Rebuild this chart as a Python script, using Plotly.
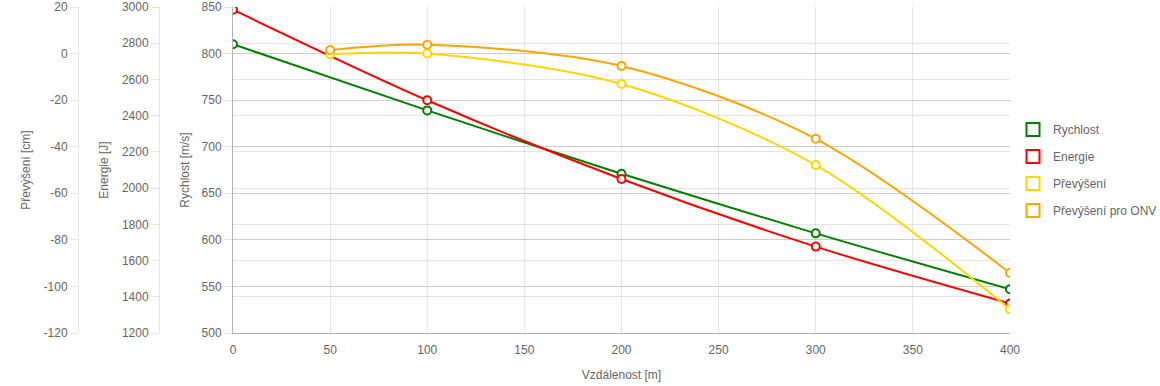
import plotly.graph_objects as go

distance = [0, 100, 200, 300, 400]
rychlost = [810, 739, 671, 607, 547]
energie = [2985, 2485, 2050, 1677, 1363]
prevyseni_x = [50, 100, 200, 300, 400]
prevyseni = [-0.3, 0.0, -13.1, -47.9, -109.8]
prevyseni_onv = [1.5, 3.8, -5.3, -36.6, -94.2]

prevyseni_ticks = [20, 0, -20, -40, -60, -80, -100, -120]
prevyseni_ticktext = ["20", "0", "-20", "-40", "-60", "-80", "-100", "-120"]

names = ["Rychlost", "Energie", "Převýšení", "Převýšení pro ONV"]
colors = ["#008000", "#ff0000", "#ffd700", "#ffa500"]

W, H = 1160, 386
ML, MR, MT, MB = 10, 10, 7, 53
IW = W - ML - MR
x0, x1 = 233, 1010

FONT = "Liberation Sans, Arial, sans-serif"
TXT = "#666666"
GRID = "rgba(0,0,0,0.1)"

fig = go.Figure()

series = [
    (distance, rychlost, "y"),
    (distance, energie, "y2"),
    (prevyseni_x, prevyseni, "y3"),
    (prevyseni_x, prevyseni_onv, "y3"),
]
for (xs, ys, ya), name, col in zip(series, names, colors):
    fig.add_trace(go.Scatter(
        x=xs, y=ys, yaxis=ya, name=name, showlegend=False,
        mode="lines+markers",
        line=dict(color=col, width=2, shape="spline", smoothing=0.9),
        marker=dict(symbol="circle", size=8, color="white",
                    line=dict(color=col, width=2)),
        hoverinfo="skip",
    ))

for i, (name, col) in enumerate(zip(names, colors)):
    fig.add_trace(go.Scatter(
        x=[None], y=[None], name=name, mode="markers",
        legendgroup=f"g{i}",
        marker=dict(symbol="square-open", size=13, color=col,
                    line=dict(color=col, width=2)),
    ))

def px(v):
    return (v - ML) / IW

def yax(title, rng, dtick, pos=None, linecolor=GRID, standoff=9):
    d = dict(
        title=dict(text=title, standoff=standoff,
                   font=dict(family=FONT, size=12, color=TXT)),
        range=rng, dtick=dtick, tick0=rng[0],
        showgrid=True, gridcolor=GRID, gridwidth=1,
        zeroline=False, showline=True, linecolor=linecolor, linewidth=1,
        ticks="outside", ticklen=8, tickcolor=GRID,
        tickfont=dict(family=FONT, size=12, color=TXT),
        side="left", automargin=False,
    )
    if pos is not None:
        d.update(anchor="free", position=pos, overlaying="y")
    return d

y3 = yax("Převýšení [cm]", [-120, 20], 20, pos=px(78))
y3.update(tickmode="array", tickvals=prevyseni_ticks, ticktext=prevyseni_ticktext)

fig.update_layout(
    width=W, height=H,
    margin=dict(l=ML, r=MR, t=MT, b=MB, autoexpand=False),
    paper_bgcolor="white", plot_bgcolor="white",
    font=dict(family=FONT, size=12, color=TXT),
    xaxis=dict(
        domain=[px(x0), px(x1)], range=[0, 400], dtick=50, tick0=0,
        showgrid=True, gridcolor=GRID, zeroline=False,
        showline=True, linecolor="rgba(0,0,0,0.3)",
        ticks="outside", ticklen=6, tickcolor="rgba(0,0,0,0)",
        tickfont=dict(family=FONT, size=12, color=TXT),
        automargin=False,
        title=dict(text="Vzdálenost [m]", standoff=14,
                   font=dict(family=FONT, size=12, color=TXT)),
    ),
    yaxis=yax("Rychlost [m/s]", [500, 850], 50, linecolor="rgba(0,0,0,0.3)"),
    yaxis2=yax("Energie [J]", [1200, 3000], 200, pos=px(159)),
    yaxis3=y3,
    legend=dict(
        x=px(1013), xanchor="left", y=0.5, yanchor="middle",
        font=dict(family=FONT, size=12, color=TXT),
        tracegroupgap=8, traceorder="grouped",
        bgcolor="rgba(0,0,0,0)",
    ),
)

fig.write_html(
    "out.html",
    config={"displayModeBar": False},
    post_script="document.body.style.margin='0';document.body.style.overflow='hidden';",
)
